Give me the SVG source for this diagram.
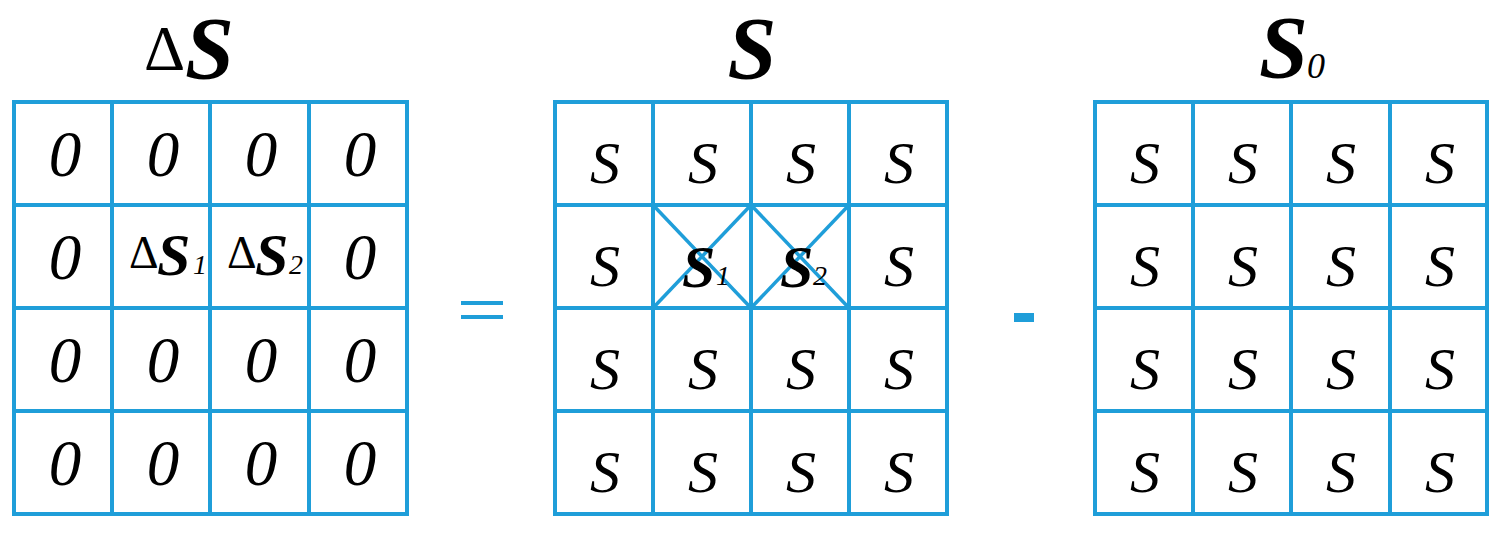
<svg xmlns="http://www.w3.org/2000/svg" width="1505" height="533" viewBox="0 0 1505 533">
<style>
.grid line{stroke:#1f9ed9;stroke-width:4;stroke-linecap:square}
.diag line{stroke:#1f9ed9;stroke-width:3.5}
text{font-family:'Liberation Serif','Times New Roman',serif;fill:#000}
.z{font-style:italic;font-size:65px;text-anchor:middle}
.s{font-style:italic;font-size:60px;text-anchor:middle}
.bs{font-style:italic;font-weight:bold}
.sub{font-style:italic}
.op{fill:#1f9ed9}
</style>
<rect width="1505" height="533" fill="#fff"/>

<g id="title-dS">
<text x="144" y="70" font-size="64">Δ</text>
<text class="bs" x="185" y="78" font-size="88">S</text>
</g>
<g id="title-S">
<text class="bs" x="752" y="78" font-size="88" text-anchor="middle">S</text>
</g>
<g id="title-S0">
<text class="bs" x="1259" y="77" font-size="88">S</text>
<text class="sub" x="1307" y="78" font-size="36">0</text>
</g>

<g id="grid-dS">
<g class="grid">
<line x1="14" y1="102" x2="407" y2="102"/><line x1="14" y1="205" x2="407" y2="205"/><line x1="14" y1="308" x2="407" y2="308"/><line x1="14" y1="411" x2="407" y2="411"/><line x1="14" y1="514" x2="407" y2="514"/>
<line x1="14" y1="102" x2="14" y2="514"/><line x1="112" y1="102" x2="112" y2="514"/><line x1="210" y1="102" x2="210" y2="514"/><line x1="309" y1="102" x2="309" y2="514"/><line x1="407" y1="102" x2="407" y2="514"/>
</g>
<g class="z">
<text x="65" y="176">0</text><text x="163" y="176">0</text><text x="261" y="176">0</text><text x="360" y="176">0</text>
<text x="65" y="279">0</text><text x="360" y="279">0</text>
<text x="65" y="382">0</text><text x="163" y="382">0</text><text x="261" y="382">0</text><text x="360" y="382">0</text>
<text x="65" y="485">0</text><text x="163" y="485">0</text><text x="261" y="485">0</text><text x="360" y="485">0</text>
</g>
<g id="cell-dS1">
<text x="129" y="268" font-size="46">Δ</text>
<text class="bs" x="157" y="275" font-size="60">S</text>
<text class="sub" x="193" y="274" font-size="28">1</text>
</g>
<g id="cell-dS2">
<text x="227" y="268" font-size="46">Δ</text>
<text class="bs" x="255" y="275" font-size="60">S</text>
<text class="sub" x="289" y="274" font-size="28">2</text>
</g>
</g>

<g id="equals" class="op">
<rect x="461" y="301" width="42" height="4"/>
<rect x="461" y="315" width="42" height="4"/>
</g>

<g id="grid-S">
<g class="grid">
<line x1="555" y1="102" x2="947" y2="102"/><line x1="555" y1="205" x2="947" y2="205"/><line x1="555" y1="308" x2="947" y2="308"/><line x1="555" y1="411" x2="947" y2="411"/><line x1="555" y1="514" x2="947" y2="514"/>
<line x1="555" y1="102" x2="555" y2="514"/><line x1="653" y1="102" x2="653" y2="514"/><line x1="751" y1="102" x2="751" y2="514"/><line x1="849" y1="102" x2="849" y2="514"/><line x1="947" y1="102" x2="947" y2="514"/>
</g>
<g class="diag">
<line x1="653" y1="205" x2="751" y2="308"/><line x1="653" y1="308" x2="751" y2="205"/>
<line x1="751" y1="205" x2="849" y2="308"/><line x1="751" y1="308" x2="849" y2="205"/>
</g>
<g class="s">
<text x="605" y="183">S</text><text x="703" y="183">S</text><text x="801" y="183">S</text><text x="899" y="183">S</text>
<text x="605" y="286">S</text><text x="899" y="286">S</text>
<text x="605" y="389">S</text><text x="703" y="389">S</text><text x="801" y="389">S</text><text x="899" y="389">S</text>
<text x="605" y="492">S</text><text x="703" y="492">S</text><text x="801" y="492">S</text><text x="899" y="492">S</text>
</g>
<g id="cell-S1">
<text class="bs" x="682" y="287" font-size="60">S</text>
<text class="sub" x="716" y="285" font-size="28">1</text>
</g>
<g id="cell-S2">
<text class="bs" x="780" y="287" font-size="60">S</text>
<text class="sub" x="813" y="285" font-size="28">2</text>
</g>
</g>

<g id="minus" class="op">
<rect x="1014" y="313" width="20" height="9"/>
</g>

<g id="grid-S0">
<g class="grid">
<line x1="1095" y1="102" x2="1487" y2="102"/><line x1="1095" y1="205" x2="1487" y2="205"/><line x1="1095" y1="308" x2="1487" y2="308"/><line x1="1095" y1="411" x2="1487" y2="411"/><line x1="1095" y1="514" x2="1487" y2="514"/>
<line x1="1095" y1="102" x2="1095" y2="514"/><line x1="1193" y1="102" x2="1193" y2="514"/><line x1="1291" y1="102" x2="1291" y2="514"/><line x1="1390" y1="102" x2="1390" y2="514"/><line x1="1487" y1="102" x2="1487" y2="514"/>
</g>
<g class="s">
<text x="1145" y="183">S</text><text x="1243" y="183">S</text><text x="1341" y="183">S</text><text x="1440" y="183">S</text>
<text x="1145" y="286">S</text><text x="1243" y="286">S</text><text x="1341" y="286">S</text><text x="1440" y="286">S</text>
<text x="1145" y="389">S</text><text x="1243" y="389">S</text><text x="1341" y="389">S</text><text x="1440" y="389">S</text>
<text x="1145" y="492">S</text><text x="1243" y="492">S</text><text x="1341" y="492">S</text><text x="1440" y="492">S</text>
</g>
</g>
</svg>
